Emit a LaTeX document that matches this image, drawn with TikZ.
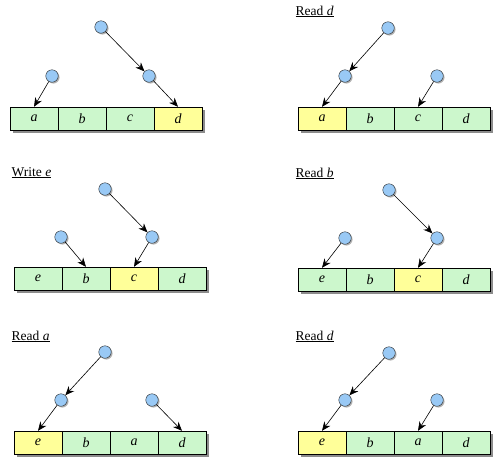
\documentclass[tikz,border=0pt]{standalone}
\usepackage{fontspec}
\setmainfont{Liberation Serif}
\usepackage{xcolor}
\usetikzlibrary{arrows.meta}
\usetikzlibrary{shadows}

\definecolor{cellgreen}{HTML}{CCF7CC}
\definecolor{cellyellow}{HTML}{FFFF99}
\definecolor{ballblue}{HTML}{99C9F5}

\begin{document}
\begin{tikzpicture}[x=1pt, y=-1pt,
        cell/.style={draw=black, fill=cellgreen, minimum width=48pt, minimum height=23.5pt,
                     inner sep=0pt, font=\fontsize{14}{16}\selectfont\itshape,
                     drop shadow={shadow xshift=2.5pt, shadow yshift=-2.5pt, fill=black!45, opacity=1}},
        hot/.style={cell, fill=cellyellow},
        ball/.style={circle, draw=black!85, fill=ballblue, minimum size=12.5pt, inner sep=0pt,
                     drop shadow={shadow xshift=1.3pt, shadow yshift=-1.3pt, fill=black!30, opacity=1}},
        ptr/.style={-{Stealth[length=9pt, width=7.5pt]}, line width=0.6pt},
        ttl/.style={anchor=base west, inner sep=0pt, font=\fontsize{13.5}{15}\selectfont}
      ]
  \useasboundingbox (0,0) rectangle (497,464);

        % start
        \begin{scope}[shift={(10,107)}]
          \foreach \t/\s [count=\i] in {a/cell, b/cell, c/cell, d/hot}
            \node[\s] (p1c\i) at ({(\i-0.5)*48}, 11.75) {\t};
          \node[ball] (p1r) at (91,-80) {};
          \node[ball] (p1m) at (139,-31) {};
          \node[ball] (p1l) at (42,-31) {};
          \draw[ptr] (p1r) -- (p1m);
          \draw[ptr] (p1m) -- (p1c4.north);
          \draw[ptr] (p1l) -- (p1c1.north);
        \end{scope}

        % Read d
        \begin{scope}[shift={(298,107)}]
          \node[ttl] (p2t) at (-2.5,-92) {\underline{Read \textit{d}}};
          \foreach \t/\s [count=\i] in {a/hot, b/cell, c/cell, d/cell}
            \node[\s] (p2c\i) at ({(\i-0.5)*48}, 11.75) {\t};
          \node[ball] (p2r) at (90,-79) {};
          \node[ball] (p2m) at (47,-31) {};
          \node[ball] (p2l) at (139,-31) {};
          \draw[ptr] (p2r) -- (p2m);
          \draw[ptr] (p2m) -- (p2c1.north);
          \draw[ptr] (p2l) -- (p2c3.north);
        \end{scope}

        % Write e
        \begin{scope}[shift={(14,267)}]
          \node[ttl] (p3t) at (-2.5,-91) {\underline{Write \textit{e}}};
          \foreach \t/\s [count=\i] in {e/cell, b/cell, c/hot, d/cell}
            \node[\s] (p3c\i) at ({(\i-0.5)*48}, 11.75) {\t};
          \node[ball] (p3r) at (91,-78) {};
          \node[ball] (p3m) at (138,-30) {};
          \node[ball] (p3l) at (47,-30) {};
          \draw[ptr] (p3r) -- (p3m);
          \draw[ptr] (p3m) -- (p3c3.north);
          \draw[ptr] (p3l) -- (p3c2.north);
        \end{scope}

        % Read b
        \begin{scope}[shift={(298,268)}]
          \node[ttl] (p4t) at (-2.5,-91) {\underline{Read \textit{b}}};
          \foreach \t/\s [count=\i] in {e/cell, b/cell, c/hot, d/cell}
            \node[\s] (p4c\i) at ({(\i-0.5)*48}, 11.75) {\t};
          \node[ball] (p4r) at (91,-78) {};
          \node[ball] (p4m) at (139,-30) {};
          \node[ball] (p4l) at (47,-30) {};
          \draw[ptr] (p4r) -- (p4m);
          \draw[ptr] (p4m) -- (p4c3.north);
          \draw[ptr] (p4l) -- (p4c1.north);
        \end{scope}

        % Read a
        \begin{scope}[shift={(14,431)}]
          \node[ttl] (p5t) at (-2.5,-91) {\underline{Read \textit{a}}};
          \foreach \t/\s [count=\i] in {e/hot, b/cell, a/cell, d/cell}
            \node[\s] (p5c\i) at ({(\i-0.5)*48}, 11.75) {\t};
          \node[ball] (p5r) at (91,-79) {};
          \node[ball] (p5m) at (47,-31) {};
          \node[ball] (p5l) at (138,-31) {};
          \draw[ptr] (p5r) -- (p5m);
          \draw[ptr] (p5m) -- (p5c1.north);
          \draw[ptr] (p5l) -- (p5c4.north);
        \end{scope}

        % Read d
        \begin{scope}[shift={(298,431)}]
          \node[ttl] (p6t) at (-2.5,-91) {\underline{Read \textit{d}}};
          \foreach \t/\s [count=\i] in {e/hot, b/cell, a/cell, d/cell}
            \node[\s] (p6c\i) at ({(\i-0.5)*48}, 11.75) {\t};
          \node[ball] (p6r) at (91,-78) {};
          \node[ball] (p6m) at (47,-31) {};
          \node[ball] (p6l) at (139,-31) {};
          \draw[ptr] (p6r) -- (p6m);
          \draw[ptr] (p6m) -- (p6c1.north);
          \draw[ptr] (p6l) -- (p6c3.north);
        \end{scope}

      \end{tikzpicture}
\end{document}
